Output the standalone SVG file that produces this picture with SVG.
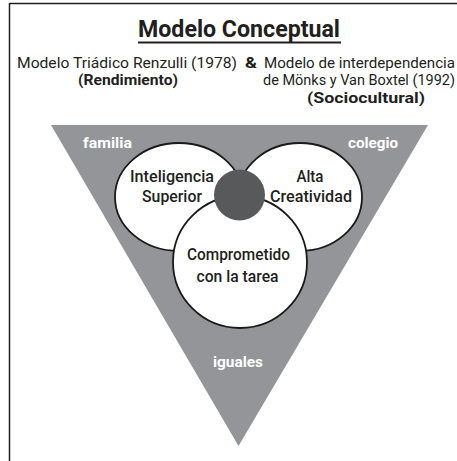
<svg xmlns="http://www.w3.org/2000/svg" width="457" height="461" viewBox="0 0 457 461">
<style>
  .t { font-family: Roboto, "Liberation Sans", sans-serif; fill: #231f20; }
  .b { font-weight: bold; }
  .w { fill: #ffffff; font-weight: bold; font-family: Roboto, "Liberation Sans", sans-serif; }
  .c { fill: #ffffff; stroke: #1a1a1a; stroke-width: 1.8; }
  .in { font-family: Roboto, "Liberation Sans", sans-serif; font-weight: 500; fill: #231f20; font-size: 16px; text-anchor: middle; }
</style>
<rect width="457" height="461" fill="#ffffff"/>
<g id="frame" stroke="#231f20" stroke-width="1.5" fill="none">
  <line x1="9.5" y1="3.5" x2="457" y2="3.5"/>
  <line x1="9.5" y1="3" x2="9.5" y2="461"/>
</g>
<g id="title">
  <text class="t b" x="239" y="37" font-size="24" text-anchor="middle" textLength="202" lengthAdjust="spacingAndGlyphs">Modelo Conceptual</text>
  <line x1="138" y1="42.5" x2="341" y2="42.5" stroke="#231f20" stroke-width="1.8"/>
</g>
<g id="subtitles">
  <text class="t" x="17" y="68" font-size="15" textLength="220" lengthAdjust="spacingAndGlyphs">Modelo Triádico Renzulli (1978)</text>
  <text class="t b" x="245" y="68" font-size="15" textLength="12" lengthAdjust="spacingAndGlyphs">&amp;</text>
  <text class="t" x="264" y="68" font-size="15" textLength="191" lengthAdjust="spacingAndGlyphs">Modelo de interdependencia</text>
  <text class="t b" x="78" y="84.5" font-size="15" textLength="100" lengthAdjust="spacingAndGlyphs">(Rendimiento)</text>
  <text class="t" x="263" y="84.5" font-size="15" textLength="192" lengthAdjust="spacingAndGlyphs">de Mönks y Van Boxtel (1992)</text>
  <text class="t b" x="307" y="102.5" font-size="15" textLength="118" lengthAdjust="spacingAndGlyphs">(Sociocultural)</text>
</g>
<g id="triangle">
  <polygon points="51,125 428,125 238.5,446" fill="#939598"/>
  <text class="w" x="83" y="148" font-size="14.5" textLength="49" lengthAdjust="spacingAndGlyphs">familia</text>
  <text class="w" x="348" y="148" font-size="14.5" textLength="50" lengthAdjust="spacingAndGlyphs">colegio</text>
  <text class="w" x="213" y="366.5" font-size="14.5" textLength="50" lengthAdjust="spacingAndGlyphs">iguales</text>
</g>
<g id="inteligencia">
  <ellipse class="c" cx="179" cy="197" rx="64" ry="54"/>
</g>
<g id="creatividad">
  <ellipse class="c" cx="300" cy="197" rx="62" ry="54"/>
</g>
<g id="comprometido">
  <ellipse class="c" cx="240" cy="262" rx="67" ry="66"/>
</g>
<g id="centro">
  <circle cx="239.5" cy="195" r="25.5" fill="#58595b"/>
</g>
<g id="labels">
  <text class="in" x="172" y="181.5" textLength="84" lengthAdjust="spacingAndGlyphs">Inteligencia</text>
  <text class="in" x="172" y="201.5" textLength="60" lengthAdjust="spacingAndGlyphs">Superior</text>
  <text class="in" x="310" y="181.5" textLength="27" lengthAdjust="spacingAndGlyphs">Alta</text>
  <text class="in" x="311" y="201.5" textLength="82" lengthAdjust="spacingAndGlyphs">Creatividad</text>
  <text class="in" x="238.5" y="260" textLength="103" lengthAdjust="spacingAndGlyphs">Comprometido</text>
  <text class="in" x="237.5" y="281.5" textLength="82" lengthAdjust="spacingAndGlyphs">con la tarea</text>
</g>
</svg>
